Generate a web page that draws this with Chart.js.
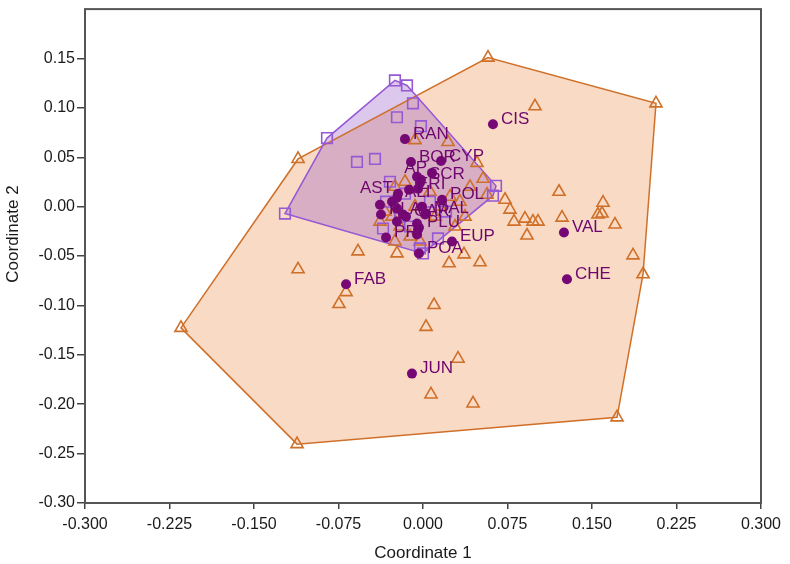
<!DOCTYPE html>
<html>
<head>
<meta charset="utf-8">
<script src="https://cdn.jsdelivr.net/npm/chart.js@4.4.1/dist/chart.umd.min.js"></script>
<style>
  html, body { margin: 0; padding: 0; background: #fff; }
  #wrap { width: 790px; height: 564px; }
</style>
</head>
<body>
<div id="wrap"><canvas id="chart"></canvas></div>
<script>
// tick labels
const xTickLabels = ['-0.300', '-0.225', '-0.150', '-0.075', '0.000', '0.075', '0.150', '0.225', '0.300'];
const yTickLabels = ['0.15', '0.10', '0.05', '0.00', '-0.05', '-0.10', '-0.15', '-0.20', '-0.25', '-0.30'];

// orange triangles
const triX = [0.0577, 0.2068, 0.1953, 0.1722, -0.1118, -0.2148, -0.1109,
    0.0994, 0.0222, 0.0479, 0.0533, 0.0568, 0.0728, 0.0772, 0.0905, 0.0976, 0.0808, 0.1021, 0.0923,
    0.1207, 0.1598, 0.1553, 0.1589, 0.1704, 0.1234, 0.1864,
    0.0098, 0.0027, 0.0311, 0.0071, 0.0444, 0.0231, 0.0506, -0.0231, 0.0364, -0.0577,
    -0.1109, -0.0683, -0.0746, -0.0071,
    -0.0249, -0.016, -0.0337, -0.0275, -0.0204, -0.0115, 0.0062, 0.0151, 0.024, 0.0328, 0.0417,
    -0.0071, -0.0027, -0.0249, -0.0382, 0.0373, 0.0284, 0.0107];
const triY = [0.1509, 0.1046, -0.0684, -0.2133, -0.2404, -0.1227, 0.0483,
    0.1016, 0.0654, 0.0443, 0.0282, 0.0121, 0.007, -0.003, -0.0121, -0.0151, -0.0151, -0.0151, -0.0292,
    0.0151, 0.004, -0.008, -0.007, -0.0181, -0.0111, -0.0493,
    -0.0996, -0.1217, -0.1539, -0.1901, -0.1992, -0.0573, -0.0563, -0.0473, -0.0483, -0.0453,
    -0.0634, -0.0865, -0.0986, 0.0674,
    0.0201, 0.0252, -0.005, -0.0101, -0.0201, -0.0302, 0.0151, 0.0, 0.0101, 0.005, 0.0201,
    0.0, -0.0352, -0.0352, -0.0151, -0.0101, -0.0201, -0.0101];

// purple squares
const sqX = [-0.0249, -0.0142, 0.0648, 0.0621, 0.0, -0.1225, -0.0852,
    -0.0089, -0.0231, -0.0018, -0.0586, -0.0426, -0.0355, 0.0133, -0.0027,
    -0.0293, -0.016, -0.0328, -0.0204, -0.0115, 0.0062, 0.0204];
const sqY = [0.1278, 0.1227, 0.0211, 0.0111, -0.0473, -0.007, 0.0694,
    0.1046, 0.0905, 0.0815, 0.0453, 0.0483, -0.0221, -0.0322, -0.0423,
    0.0252, 0.0131, 0.005, -0.0101, -0.0201, 0.005, -0.005];

// labelled dots
const dotNames = ['CIS', 'VAL', 'CHE', 'JUN', 'FAB', 'EUP', 'RAN', 'BOR', 'CYP', 'AP', 'SCR', 'AST',
    'ERI', 'POL', 'ALI', 'PLA', 'CAR', 'MAL', 'PLU', 'PRI', 'POA',
    '', '', '', '', '', '', '', '', '', '', '', '', ''];
const dotX = [0.0621, 0.1251, 0.1278, -0.0098, -0.0683, 0.0257, -0.016, -0.0107, 0.016, 0.008, -0.0018, -0.0222,
    -0.0124, 0.0169, -0.0231, -0.0373, -0.0151, 0.0027, -0.0036, -0.0328, -0.0036,
    -0.0053, -0.0027, -0.0044, -0.0275, -0.0382, -0.0231, -0.0009, 0.0018, -0.0178, -0.0231, -0.0053, -0.0044, -0.0053];
const dotY = [0.0835, -0.0262, -0.0734, -0.169, -0.0785, -0.0352, 0.0684, 0.0453, 0.0463, 0.0342, 0.0272, 0.0131,
    0.0171, 0.007, 0.0091, -0.008, -0.0101, -0.007, -0.0211, -0.0312, -0.0473,
    0.0302, 0.0241, 0.0181, 0.005, 0.002, -0.002, 0.0, -0.008, -0.008, -0.0151, -0.0171, -0.0231, -0.0282];

const ORANGE = 'rgb(207, 112, 42)';
const ORANGE_FILL = 'rgba(235, 140, 70, 0.32)';
const PURPLE = 'rgb(150, 88, 212)';
const PURPLE_FILL = 'rgba(150, 84, 200, 0.33)';
const DOT = 'rgb(118, 8, 118)';
const leftLabels = ['AP', 'AST'];
const FONT = '"Liberation Sans", Arial, sans-serif';

const toPts = (xs, ys) => xs.map((x, i) => ({ x, y: ys[i] }));

// monotone chain convex hull
const hull = (pts) => {
    const p = [...pts].sort((a, b) => a.x - b.x || a.y - b.y);
    const cross = (o, a, b) => (a.x - o.x) * (b.y - o.y) - (a.y - o.y) * (b.x - o.x);
    const lower = [];
    for (const q of p) {
        while (lower.length >= 2 && cross(lower[lower.length - 2], lower[lower.length - 1], q) <= 0) lower.pop();
        lower.push(q);
    }
    const upper = [];
    for (let i = p.length - 1; i >= 0; i--) {
        const q = p[i];
        while (upper.length >= 2 && cross(upper[upper.length - 2], upper[upper.length - 1], q) <= 0) upper.pop();
        upper.push(q);
    }
    upper.pop();
    lower.pop();
    return lower.concat(upper);
};

const triPts = toPts(triX, triY);
const sqPts = toPts(sqX, sqY);
const dotPts = toPts(dotX, dotY);

const hullPlugin = {
    id: 'hulls',
    beforeDatasetsDraw(chart) {
        const { ctx, chartArea, scales } = chart;
        const trace = (h) => {
            ctx.beginPath();
            h.forEach((p, i) => {
                const px = scales.x.getPixelForValue(p.x);
                const py = scales.y.getPixelForValue(p.y);
                if (i === 0) ctx.moveTo(px, py);
                else ctx.lineTo(px, py);
            });
            ctx.closePath();
        };
        const hOrange = hull(triPts);
        const hPurple = hull(sqPts);
        ctx.save();
        ctx.beginPath();
        ctx.rect(chartArea.left, chartArea.top, chartArea.right - chartArea.left, chartArea.bottom - chartArea.top);
        ctx.clip();
        trace(hOrange);
        ctx.fillStyle = ORANGE_FILL;
        ctx.fill();
        trace(hPurple);
        ctx.fillStyle = PURPLE_FILL;
        ctx.fill();
        ctx.lineWidth = 1.5;
        trace(hOrange);
        ctx.strokeStyle = ORANGE;
        ctx.stroke();
        trace(hPurple);
        ctx.strokeStyle = PURPLE;
        ctx.stroke();
        ctx.restore();
    },
};

const labelPlugin = {
    id: 'dotLabels',
    afterDatasetsDraw(chart) {
        const { ctx } = chart;
        const meta = chart.getDatasetMeta(0);
        ctx.save();
        ctx.font = '17px ' + FONT;
        ctx.fillStyle = 'rgb(110, 6, 110)';
        ctx.textBaseline = 'middle';
        meta.data.forEach((el, i) => {
            const name = dotNames[i];
            if (!name) return;
            if (leftLabels.includes(name)) {
                ctx.textAlign = 'right';
                ctx.fillText(name, el.x - 5, el.y - 5);
            } else {
                ctx.textAlign = 'left';
                ctx.fillText(name, el.x + 8, el.y - 5);
            }
        });
        ctx.restore();
    },
};

// frame round the plot and the y title (sits a bit above the middle, as in the source)
const framePlugin = {
    id: 'frame',
    afterDraw(chart) {
        const { ctx, chartArea } = chart;
        ctx.save();
        ctx.strokeStyle = '#555';
        ctx.lineWidth = 2;
        ctx.strokeRect(chartArea.left, chartArea.top, chartArea.right - chartArea.left, chartArea.bottom - chartArea.top);
        ctx.translate(13, (chartArea.top + chartArea.bottom) / 2 - 22);
        ctx.rotate(-Math.PI / 2);
        ctx.font = '17px ' + FONT;
        ctx.fillStyle = '#1a1a1a';
        ctx.textAlign = 'center';
        ctx.textBaseline = 'middle';
        ctx.fillText('Coordinate 2', 0, 0);
        ctx.restore();
    },
};

const findLabel = (labels, value) => {
    const hit = labels.find((l) => Math.abs(Number(l) - value) < 1e-6);
    return hit === undefined ? '' : hit;
};

const tickFont = { family: FONT, size: 16 };
const titleFont = { family: FONT, size: 17 };

new Chart(document.getElementById('chart'), {
    type: 'scatter',
    data: {
        datasets: [
            {
                label: 'dots',
                data: dotPts,
                pointStyle: 'circle',
                pointRadius: 5,
                pointBackgroundColor: DOT,
                pointBorderColor: DOT,
                pointBorderWidth: 0,
            },
            {
                label: 'squares',
                data: sqPts,
                pointStyle: 'rect',
                pointRadius: 7.5,
                pointBackgroundColor: 'rgba(0,0,0,0)',
                pointBorderColor: PURPLE,
                pointBorderWidth: 1.6,
            },
            {
                label: 'triangles',
                data: triPts,
                pointStyle: 'triangle',
                pointRadius: 7,
                pointBackgroundColor: 'rgba(0,0,0,0)',
                pointBorderColor: ORANGE,
                pointBorderWidth: 1.6,
            },
        ],
    },
    options: {
        responsive: true,
        maintainAspectRatio: false,
        animation: false,
        layout: { padding: { left: 0, right: 29, top: 3, bottom: 0 } },
        plugins: { legend: { display: false }, tooltip: { enabled: false } },
        scales: {
            x: {
                type: 'linear',
                min: -0.3,
                max: 0.3,
                afterFit: (scale) => { scale.height = 61; },
                ticks: {
                    stepSize: 0.075,
                    color: '#1a1a1a',
                    font: tickFont,
                    padding: 6,
                    maxRotation: 0,
                    callback: (v) => findLabel(xTickLabels, v),
                },
                grid: { drawOnChartArea: false, drawTicks: true, tickLength: 6, color: '#444', lineWidth: 1.5 },
                border: { display: false },
                title: { display: true, text: 'Coordinate 1', color: '#1a1a1a', font: titleFont, padding: { top: 4, bottom: 0 } },
            },
            y: {
                type: 'linear',
                min: -0.3,
                max: 0.2,
                afterFit: (scale) => {
                    scale.width = 85;
                    scale.paddingTop = 0;
                    scale.paddingBottom = 0;
                },
                ticks: {
                    stepSize: 0.05,
                    color: '#1a1a1a',
                    font: tickFont,
                    padding: 2,
                    callback: (v) => findLabel(yTickLabels, v),
                },
                grid: {
                    drawOnChartArea: false,
                    drawTicks: true,
                    tickLength: 8,
                    lineWidth: 1.5,
                    color: (c) => (c.tick && c.tick.value > 0.17 ? 'rgba(0,0,0,0)' : '#444'),
                },
                border: { display: false },
                title: { display: false },
            },
        },
    },
    plugins: [hullPlugin, labelPlugin, framePlugin],
});
</script>
</body>
</html>
